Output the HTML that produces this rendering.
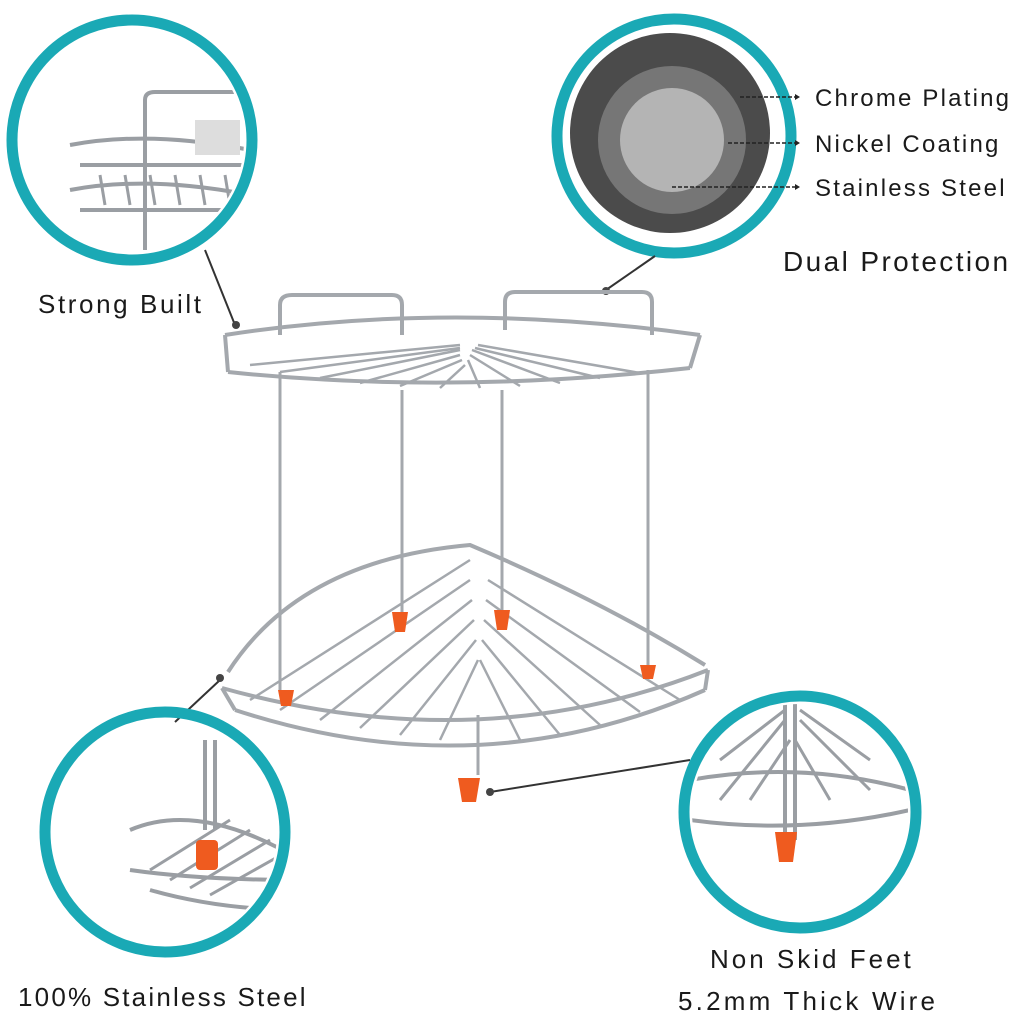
<!DOCTYPE html>
<html><head><style>
body{margin:0;background:#fff;}
svg{display:block;}
text{font-family:"Liberation Sans",sans-serif;fill:#1a1a1a;}
</style></head><body>
<svg width="1024" height="1023" viewBox="0 0 1024 1023">
<defs>
<clipPath id="c1"><circle cx="132" cy="140" r="112"/></clipPath>
<clipPath id="c3"><circle cx="165" cy="832" r="112"/></clipPath>
<clipPath id="c4"><circle cx="800" cy="812" r="108"/></clipPath>
</defs>
<g clip-path="url(#c1)" stroke="#9a9ea3" stroke-width="4" fill="none">
<path d="M145 250 V100 Q145 92 155 92 H235"/>
<path d="M70 145 Q150 130 250 150"/><path d="M70 190 Q150 175 250 195"/>
<path d="M80 165 H250"/><path d="M80 210 H250"/>
<g stroke-width="3"><path d="M100 175 L105 205 M125 175 L130 205 M150 175 L155 205 M175 175 L180 205 M200 175 L205 205 M225 175 L230 205"/></g>
<rect x="195" y="120" width="45" height="35" fill="#ddd" stroke="none"/>
</g>
<circle cx="132" cy="140" r="120" fill="none" stroke="#1aa9b5" stroke-width="11"/>
<circle cx="670" cy="133" r="100" fill="#4b4b4b"/>
<circle cx="672" cy="140" r="74" fill="#767676"/>
<circle cx="672" cy="140" r="52" fill="#b4b4b4"/>
<circle cx="674" cy="136" r="117" fill="none" stroke="#1aa9b5" stroke-width="11"/>
<g stroke="#222" stroke-width="1.5" stroke-dasharray="4 2" fill="none">
<path d="M740 97 H795"/><path d="M728 143 H795"/><path d="M672 187 H795"/>
</g>
<g fill="#222"><path d="M800 97 l-5 -3 v6z"/><path d="M800 143 l-5 -3 v6z"/><path d="M800 187 l-5 -3 v6z"/></g>
<text x="815" y="106" font-size="24" letter-spacing="2.2">Chrome Plating</text>
<text x="815" y="152" font-size="24" letter-spacing="2.2">Nickel Coating</text>
<text x="815" y="196" font-size="24" letter-spacing="2.2">Stainless Steel</text>
<text x="783" y="271" font-size="28" letter-spacing="2.4">Dual Protection</text>
<g stroke="#333" stroke-width="2" fill="none">
<path d="M655 256 L606 290"/><path d="M205 250 L235 325"/>
<path d="M220 680 L175 722"/><path d="M490 792 L690 760"/>
</g>
<g fill="#444"><circle cx="606" cy="291" r="4"/><circle cx="236" cy="325" r="4"/><circle cx="220" cy="678" r="4"/><circle cx="490" cy="792" r="4"/></g>
<text x="38" y="313" font-size="26" letter-spacing="2.6">Strong Built</text>
<g stroke="#a4a8ad" stroke-width="4" fill="none">
<path d="M225 335 Q450 300 700 335"/>
<path d="M228 372 Q450 395 690 368"/>
<path d="M225 335 L228 372 M700 335 L690 368"/>
<path d="M280 335 V305 Q280 295 292 295 H392 Q402 295 402 305 V335"/>
<path d="M505 330 V302 Q505 292 515 292 H642 Q652 292 652 302 V335"/>
<g stroke-width="2.5">
<path d="M250 365 L460 345 M280 372 L460 348 M320 378 L460 350 M360 383 L460 355 M400 386 L462 360 M440 388 L465 365 M480 388 L468 360 M520 386 L470 355 M560 383 L472 350 M600 378 L475 348 M640 373 L478 345"/>
</g>
<path d="M280 372 V690 M402 390 V615 M502 390 V615 M648 370 V668" stroke-width="3"/>
<path d="M228 672 Q300 560 470 545 Q600 600 705 665"/>
<path d="M222 688 Q480 760 708 670"/>
<path d="M235 710 Q480 790 705 690"/>
<path d="M222 688 L235 710 M708 670 L705 690"/>
<g stroke-width="2.5">
<path d="M250 700 L470 560 M280 710 L470 580 M320 720 L472 600 M360 728 L474 620 M400 735 L476 640 M440 740 L478 660 M520 740 L480 660 M560 735 L482 640 M600 725 L484 620 M640 712 L486 600 M680 700 L488 580"/>
</g>
<path d="M478 715 V775" stroke-width="3"/>
</g>
<g fill="#ef5b1f">
<path d="M392 612 h16 l-3 20 h-10z"/><path d="M494 610 h16 l-3 20 h-10z"/>
<path d="M640 665 h16 l-3 14 h-10z"/><path d="M278 690 h16 l-3 16 h-10z"/>
<path d="M458 778 h22 l-4 24 h-14z"/>
</g>
<g clip-path="url(#c3)" stroke="#9a9ea3" stroke-width="4" fill="none">
<path d="M205 740 V830 M215 740 V830"/>
<path d="M130 830 Q200 800 300 860"/><path d="M130 870 Q200 880 300 880"/>
<path d="M150 890 Q220 910 300 910"/>
<g stroke-width="3"><path d="M150 870 L230 820 M170 880 L250 830 M190 888 L270 840 M210 895 L290 850"/></g>
</g>
<rect x="196" y="840" width="22" height="30" fill="#ef5b1f" rx="4"/>
<circle cx="165" cy="832" r="120" fill="none" stroke="#1aa9b5" stroke-width="11"/>
<g clip-path="url(#c4)" stroke="#9a9ea3" stroke-width="4" fill="none">
<path d="M690 780 Q800 760 910 790"/><path d="M690 820 Q800 835 910 810"/>
<path d="M785 700 L785 840 M795 700 L795 840"/>
<g stroke-width="3"><path d="M720 800 L785 720 M750 800 L790 740 M830 800 L795 740 M870 790 L800 720 M720 760 L785 710 M870 760 L800 710"/></g>
</g>
<path d="M775 832 h22 l-4 30 h-14z" fill="#ef5b1f"/>
<circle cx="800" cy="812" r="116" fill="none" stroke="#1aa9b5" stroke-width="11"/>
<text x="18" y="1006" font-size="26" letter-spacing="2.2">100% Stainless Steel</text>
<text x="710" y="968" font-size="26" letter-spacing="3">Non Skid Feet</text>
<text x="678" y="1010" font-size="26" letter-spacing="3.2">5.2mm Thick Wire</text>
</svg>
</body></html>
